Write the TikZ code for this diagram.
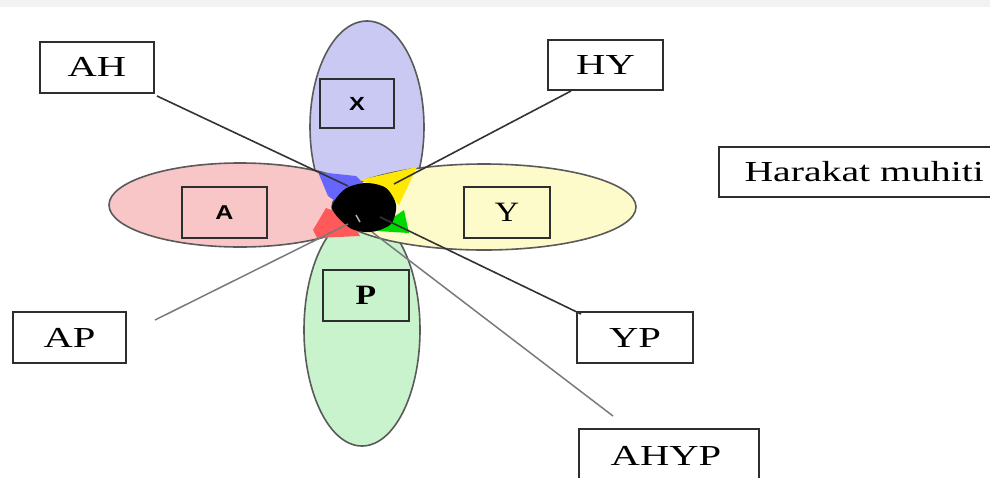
\documentclass[tikz,border=0pt]{standalone}
\usepackage{fontspec}
\setmainfont{Liberation Serif}
\newfontfamily\sansf{Liberation Sans}
\usepackage{graphicx}
\definecolor{cpurple}{HTML}{C9C9F4}
\definecolor{cpink}{HTML}{F8C6C6}
\definecolor{cyellow}{HTML}{FDFBC9}
\definecolor{cgreen}{HTML}{C9F3CC}
\definecolor{outl}{HTML}{5A5A5A}
\definecolor{boxc}{HTML}{2E2E2E}
\definecolor{linec}{HTML}{333333}
\definecolor{lgrey}{HTML}{7A7A7A}
\begin{document}
\begin{tikzpicture}[x=1pt,y=-1pt,
  ell/.style={draw=outl,line width=1.6pt},
  lbl/.style={draw=boxc,line width=2pt,fill=white,inner sep=0pt,font=\fontsize{29}{31}\selectfont},
  inbox/.style={draw=boxc,line width=1.6pt,inner sep=0pt},
  conn/.style={draw=linec,line width=1.6pt},
  connl/.style={draw=lgrey,line width=1.5pt}]
\useasboundingbox (0,0) rectangle (990,477);
\fill[white] (0,0) rectangle (990,477);
\fill[black!5] (0,0) rectangle (990,7);
% ellipses
\path[ell,fill=cpurple] (367,127) ellipse [x radius=57, y radius=106];
\path[ell,fill=cgreen] (362,330) ellipse [x radius=58, y radius=116];
\path[ell,fill=cpink] (240,205) ellipse [x radius=131, y radius=42];
\path[ell,fill=cyellow] (484,207) ellipse [x radius=152, y radius=43];
% overlap regions
\fill[blue!60!white] (318,172) -- (356,176) -- (363,183) -- (345,193) -- (338,203) -- (328,196) -- cycle;
\fill[yellow!90!orange] (360,180) -- (417,167) -- (399,205) -- (385,190) -- cycle;
\fill[red!65!white] (326,208) -- (350,217) -- (360,236) -- (317,238) -- (313,230) -- cycle;
\fill[green!85!black] (388,221) -- (404,210) -- (409,233) -- (377,231) -- cycle;
\fill[black] plot[smooth cycle] coordinates {(345,189) (366,183) (386,188) (396,205) (391,224) (371,232) (350,228) (332,208)};
\draw[black!30,line width=1.5pt] (356,215) -- (360,222);
% inner boxes
\node[inbox,minimum width=74,minimum height=49] (X) at (357,103.5) {\scalebox{1.25}[1]{\sansf\fontsize{19}{21}\selectfont\bfseries X}};
\node[inbox,minimum width=85,minimum height=51] (A) at (224.5,212.5) {\scalebox{1.25}[1]{\sansf\fontsize{20}{22}\selectfont\bfseries A}};
\node[inbox,minimum width=86,minimum height=51] (Y) at (507,212.5) {\scalebox{1.2}[1]{\fontsize{28}{30}\selectfont Y}};
\node[inbox,minimum width=86,minimum height=51] (P) at (366,295.5) {\scalebox{1.2}[1]{\fontsize{28}{30}\selectfont\bfseries P}};
% centre targets
\coordinate (cAH) at (348,186);
\coordinate (cHY) at (394,184);
\coordinate (cYP) at (380,217);
\coordinate (cAHYP) at (372,232);
\coordinate (cAP) at (348,224);
% label boxes
\node[lbl,minimum width=114,minimum height=51] (AH) at (97,67) {\scalebox{1.4}[1]{AH}};
\node[lbl,minimum width=115,minimum height=50] (HY) at (605.5,65) {\scalebox{1.4}[1]{HY}};
\node[lbl,minimum width=113,minimum height=51] (AP) at (69.5,337.5) {\scalebox{1.4}[1]{AP}};
\node[lbl,minimum width=116,minimum height=51] (YP) at (635,337.5) {\scalebox{1.4}[1]{YP}};
\node[lbl,minimum width=180,minimum height=62,anchor=north west] (AHYP) at (578,428) {};
\node at (666,456) {\fontsize{29}{31}\selectfont\scalebox{1.4}[1]{AHYP}};
\node[lbl,minimum width=275,minimum height=50,anchor=west] (HM) at (718,172) {};
\node[anchor=west] at (741,172) {\fontsize{29}{31}\selectfont\scalebox{1.37}[1]{Harakat muhiti}};
% connectors
\draw[conn] (157,96) -- (cAH);
\draw[conn] (571,91) -- (cHY);
\draw[conn] (581,314) -- (cYP);
\draw[connl] (613,416) -- (cAHYP);
\draw[connl] (155,320) -- (cAP);
\end{tikzpicture}
\end{document}
